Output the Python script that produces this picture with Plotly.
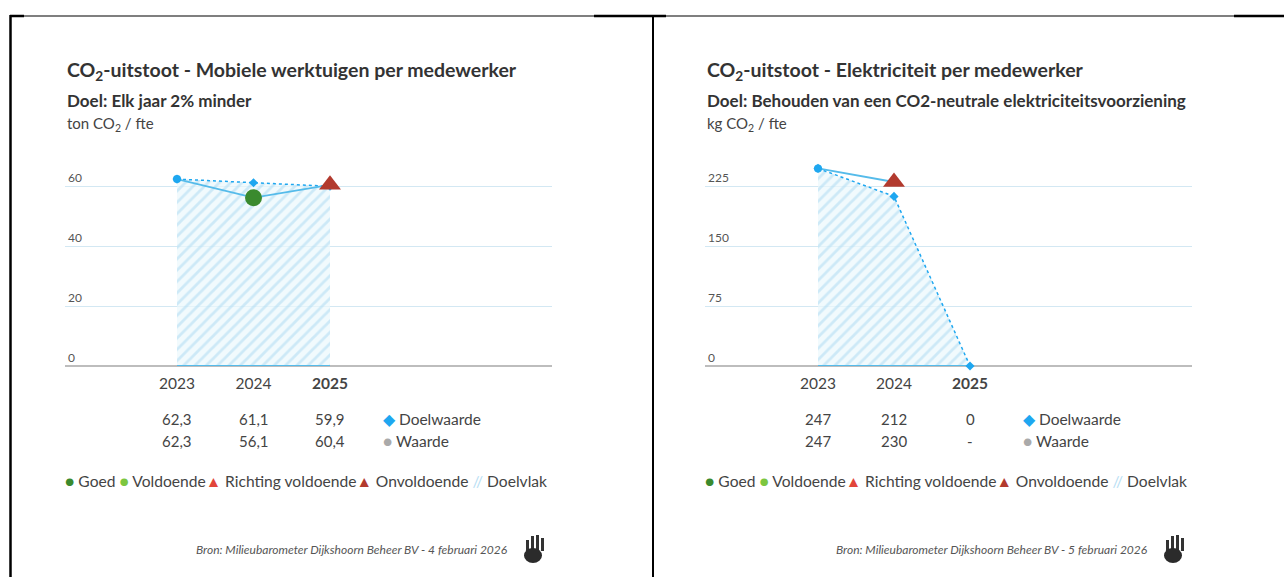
import plotly.graph_objects as go

# ---------------- data ----------------
years = [2023, 2024, 2025]
year_labels = ["2023", "2024", "<b>2025</b>"]

left_title = "CO<sub>2</sub>-uitstoot - Mobiele werktuigen per medewerker"
left_goal = "Doel: Elk jaar 2% minder"
left_unit = "ton CO<sub>2</sub> / fte"
left_target = [62.3, 61.1, 59.9]
left_value = [62.3, 56.1, 60.4]
left_status = ["base", "goed", "onvoldoende"]
left_source = "Bron: Milieubarometer Dijkshoorn Beheer BV - 4 februari 2026"
left_ticks = [0, 20, 40, 60]

right_title = "CO<sub>2</sub>-uitstoot - Elektriciteit per medewerker"
right_goal = "Doel: Behouden van een CO2-neutrale elektriciteitsvoorziening"
right_unit = "kg CO<sub>2</sub> / fte"
right_target = [247, 212, 0]
right_value = [247, 230, None]
right_status = ["base", "onvoldoende", None]
right_source = "Bron: Milieubarometer Dijkshoorn Beheer BV - 5 februari 2026"
right_ticks = [0, 75, 150, 225]

# ---------------- style ----------------
W, H = 1284, 577
FONT = "Lato"
BLUE = "#1ea7f0"
LINE_BLUE = "#55bbea"
GRID = "#d3e8f3"
TXT = "#333333"
GREY_TXT = "#555555"
status_color = {"base": BLUE, "goed": "#3a8a2e", "voldoende": "#7cc63f",
                "richting": "#e2453a", "onvoldoende": "#b23a2e"}
status_symbol = {"base": "circle", "goed": "circle", "voldoende": "circle",
                 "richting": "triangle-up", "onvoldoende": "triangle-up"}
status_size = {"base": 8, "goed": 17, "voldoende": 17, "richting": 18, "onvoldoende": 19}


def X(px):
    return px / W


def Y(py):
    return 1 - py / H


def fmt_left(v):
    return "-" if v is None else f"{v:.1f}".replace(".", ",")


def fmt_right(v):
    return "-" if v is None else f"{v:.0f}"


fig = go.Figure()

panels = [
    dict(xa="x", ya="y", x0=65, x1=552, y2023=177, y2025=330, ymax=70,
         title=left_title, goal=left_goal, unit=left_unit, target=left_target,
         value=left_value, status=left_status, source=left_source,
         ticks=left_ticks, fmt=fmt_left, src_right=510, logo=520),
    dict(xa="x2", ya="y2", x0=705, x1=1192, y2023=818, y2025=970, ymax=262.5,
         title=right_title, goal=right_goal, unit=right_unit, target=right_target,
         value=right_value, status=right_status, source=right_source,
         ticks=right_ticks, fmt=fmt_right, src_right=1150, logo=1160),
]

annotations = []
shapes = []

for i, p in enumerate(panels):
    # hatched target area
    fig.add_trace(go.Scatter(
        x=years, y=p["target"], xaxis=p["xa"], yaxis=p["ya"],
        mode="lines", fill="tozeroy",
        fillpattern=dict(shape="/", fgcolor="#aad8f1", bgcolor="rgba(236,248,253,0.7)",
                         size=8, solidity=0.35),
        fillcolor="rgba(0,0,0,0)",
        line=dict(width=0), hoverinfo="skip", showlegend=False))
    # blue baseline under the area
    fig.add_trace(go.Scatter(
        x=years, y=[0 for _ in years], xaxis=p["xa"], yaxis=p["ya"],
        mode="lines", line=dict(color=LINE_BLUE, width=2),
        hoverinfo="skip", showlegend=False, cliponaxis=False))
    # target line (dotted) with diamonds
    fig.add_trace(go.Scatter(
        x=years, y=p["target"], xaxis=p["xa"], yaxis=p["ya"],
        mode="lines+markers", line=dict(color=BLUE, width=1.5, dash="dot"),
        marker=dict(symbol="diamond", size=7, color=BLUE, opacity=1),
        showlegend=False, cliponaxis=False))
    # value line
    vx = [y for y, v in zip(years, p["value"]) if v is not None]
    vy = [v for v in p["value"] if v is not None]
    st = [s for s in p["status"] if s is not None]
    fig.add_trace(go.Scatter(
        x=vx, y=vy, xaxis=p["xa"], yaxis=p["ya"],
        mode="lines+markers", line=dict(color=LINE_BLUE, width=1.8),
        marker=dict(symbol=[status_symbol[s] for s in st],
                    size=[status_size[s] for s in st],
                    color=[status_color[s] for s in st],
                    opacity=1, line=dict(width=0)),
        opacity=1, showlegend=False, cliponaxis=False))

    # titles
    annotations += [
        dict(text=f"<b>{p['title']}</b>", x=X(p["x0"]), y=Y(71), xref="paper", yref="paper",
             xanchor="left", yanchor="middle", showarrow=False,
             font=dict(family=FONT, size=19.5, color=TXT)),
        dict(text=f"<b>{p['goal']}</b>", x=X(p["x0"]), y=Y(101), xref="paper", yref="paper",
             xanchor="left", yanchor="middle", showarrow=False,
             font=dict(family=FONT, size=17, color=TXT)),
        dict(text=p["unit"], x=X(p["x0"]), y=Y(124), xref="paper", yref="paper",
             xanchor="left", yanchor="middle", showarrow=False,
             font=dict(family=FONT, size=15, color="#444444")),
    ]
    # table values
    for yr, t, v in zip(years, p["target"], p["value"]):
        annotations.append(dict(text=p["fmt"](t), x=yr, y=Y(419), xref=p["xa"], yref="paper",
                                xanchor="center", yanchor="middle", showarrow=False,
                                font=dict(family=FONT, size=15, color="#444444")))
        annotations.append(dict(text=p["fmt"](v), x=yr, y=Y(441), xref=p["xa"], yref="paper",
                                xanchor="center", yanchor="middle", showarrow=False,
                                font=dict(family=FONT, size=15, color="#444444")))
    lx = p["x0"] + 316
    annotations += [
        dict(text=f"<span style='color:{BLUE}'>◆</span> Doelwaarde", x=X(lx), y=Y(419),
             xref="paper", yref="paper", xanchor="left", yanchor="middle", showarrow=False,
             font=dict(family=FONT, size=15.5, color="#444444")),
        dict(text="<span style='color:#aaaaaa'>●</span> Waarde", x=X(lx), y=Y(441),
             xref="paper", yref="paper", xanchor="left", yanchor="middle", showarrow=False,
             font=dict(family=FONT, size=15.5, color="#444444")),
    ]
    # status legend
    leg = (f"<span style='color:{status_color['goed']}'>●</span> Goed "
           f"<span style='color:{status_color['voldoende']}'>●</span> Voldoende"
           f"<span style='color:{status_color['richting']}'>▲</span> Richting voldoende"
           f"<span style='color:{status_color['onvoldoende']}'>▲</span> Onvoldoende "
           f"<span style='color:#b9e0f4'>//</span> Doelvlak")
    annotations.append(dict(text=leg, x=X(p["x0"] - 2), y=Y(481), xref="paper", yref="paper",
                            xanchor="left", yanchor="middle", showarrow=False,
                            font=dict(family=FONT, size=15.6, color="#444444")))
    # source
    annotations.append(dict(text=f"<i>{p['source']}</i>", x=X(p["src_right"]), y=Y(549),
                            xref="paper", yref="paper", xanchor="right", yanchor="middle",
                            showarrow=False, font=dict(family=FONT, size=12, color="#555555")))
    # logo (stylised hand / bars icon)
    lg = p["logo"]
    for k, (top, bot) in enumerate([(540, 556), (536, 554), (535, 552), (538, 551)]):
        shapes.append(dict(type="rect", xref="paper", yref="paper",
                           x0=X(lg + 6 + k * 5), x1=X(lg + 9 + k * 5), y0=Y(bot), y1=Y(top),
                           fillcolor="#333333", line=dict(width=0)))
    shapes.append(dict(type="circle", xref="paper", yref="paper",
                       x0=X(lg + 4), x1=X(lg + 22), y0=Y(563), y1=Y(548),
                       fillcolor="#2b2b2b", line=dict(width=0)))

# axes
layout_axes = {}
for i, p in enumerate(panels):
    ppu = (p["y2025"] - p["y2023"]) / (years[-1] - years[0])
    xr = [years[0] - (p["y2023"] - p["x0"]) / ppu, years[-1] + (p["x1"] - p["y2025"]) / ppu]
    sfx = "" if i == 0 else "2"
    layout_axes[f"xaxis{sfx}"] = dict(
        domain=[X(p["x0"]), X(p["x1"])], range=xr, anchor=f"y{sfx}",
        tickvals=years, ticktext=year_labels, showgrid=False, zeroline=False,
        showline=False, ticks="", ticklabelstandoff=6,
        tickfont=dict(family=FONT, size=15.5, color="#444444"),
        fixedrange=True)
    layout_axes[f"yaxis{sfx}"] = dict(
        domain=[Y(366), Y(156)], range=[0, p["ymax"]], anchor=f"x{sfx}",
        tickvals=p["ticks"], showgrid=True, gridcolor=GRID, gridwidth=1,
        zeroline=True, zerolinecolor="#bdbdbd", zerolinewidth=1.5,
        ticklabelposition="inside top", ticks="",
        tickfont=dict(family=FONT, size=12, color=GREY_TXT), fixedrange=True)

# frame lines
frame = [
    (10, 16, 1284, 16, 1.2),
    (10, 16, 24, 16, 2.5),
    (594, 16, 666, 16, 2.5),
    (1234, 16, 1284, 16, 2.5),
    (10.5, 15, 10.5, 577, 2.5),
    (653, 15, 653, 577, 2),
]
for x0, y0, x1, y1, w in frame:
    shapes.append(dict(type="line", xref="paper", yref="paper",
                       x0=X(x0), y0=Y(y0), x1=X(x1), y1=Y(y1),
                       line=dict(color="black", width=w)))

fig.update_layout(
    width=W, height=H, margin=dict(l=0, r=0, t=0, b=0),
    paper_bgcolor="white", plot_bgcolor="white",
    annotations=annotations, shapes=shapes, showlegend=False,
    font=dict(family=FONT), **layout_axes)

fig.write_html("out.html", config={"displayModeBar": False},
               post_script="document.body.style.margin='0px';")
